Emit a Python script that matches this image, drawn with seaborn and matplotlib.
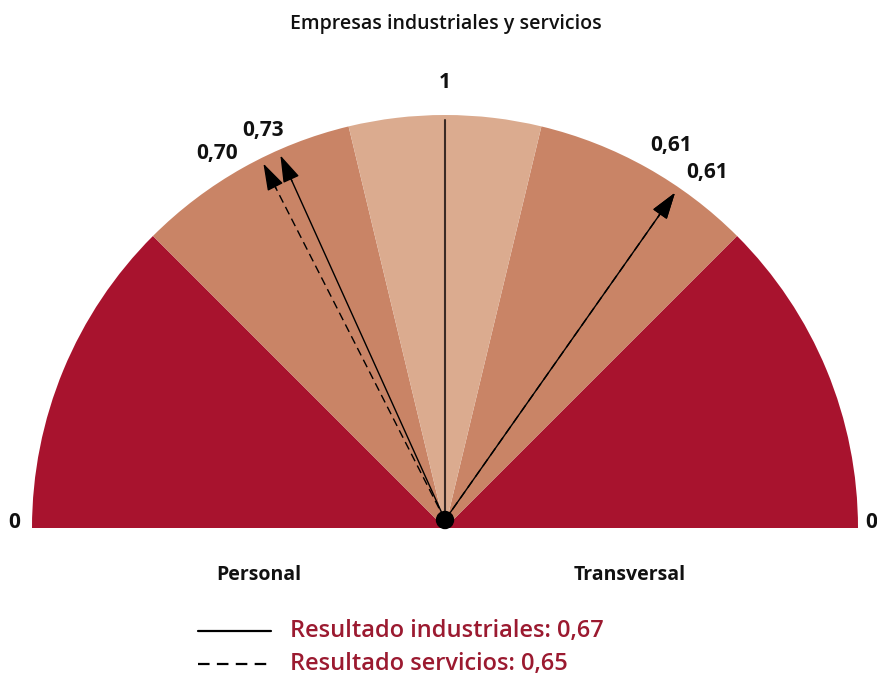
import numpy as np
import pandas as pd
import matplotlib
matplotlib.use("Agg")
import matplotlib.pyplot as plt
from matplotlib.patches import Wedge, Circle
import seaborn as sns

# ---- data ----
title = "Empresas industriales y servicios"
categories = ["Personal", "Transversal"]
industriales = [0.73, 0.61]
servicios = [0.70, 0.61]
total_industriales = 0.67
total_servicios = 0.65
zone_edges = [0.0, 0.5, 0.85, 1.0]
zone_colors = ["#A8132E", "#C98466", "#DBAB8F"]
series_names = ["Resultado industriales", "Resultado servicios"]

sns.set_theme(style="white")
plt.rcParams["font.family"] = ["Open Sans", "DejaVu Sans"]

W, H = 877, 679
fig = plt.figure(figsize=(W / 100, H / 100), dpi=100)
ax = fig.add_axes([0, 0, 1, 1])
R = 413.0
cx, cy = 445.0, 528.0  # pixel coords from top
ax.set_xlim(-cx / R, (W - cx) / R)
ax.set_ylim(-(H - cy) / R, cy / R)
ax.set_aspect("equal")
ax.axis("off")


def angle(side, v):
    # side 0 = Personal (left), side 1 = Transversal (right)
    return 180.0 - 90.0 * v if side == 0 else 90.0 * v


# zones
for side in range(2):
    for i in range(len(zone_colors)):
        a1, a2 = sorted([angle(side, zone_edges[i]), angle(side, zone_edges[i + 1])])
        ax.add_patch(Wedge((0, 0), 1.0, a1, a2, facecolor=zone_colors[i],
                           edgecolor="none", zorder=1))

origin = (0.0, 8 / R)
L = 400 / R

# vertical "1" line
ax.plot([0, 0], [origin[1], origin[1] + L], color="#3A2A25", lw=1.5, zorder=3)

# arrows data
rows = []
for s_name, vals in [(series_names[0], industriales), (series_names[1], servicios)]:
    for side, v in enumerate(vals):
        th = np.deg2rad(angle(side, v))
        for t in (0.0, 1.0):
            rows.append(dict(serie=s_name, cat=categories[side], v=v,
                             x=origin[0] + t * L * 0.95 * np.cos(th),
                             y=origin[1] + t * L * 0.95 * np.sin(th),
                             seg=f"{s_name}-{side}"))
df = pd.DataFrame(rows)
sns.lineplot(data=df, x="x", y="y", units="seg", estimator=None, style="serie",
             style_order=series_names, dashes=[(None, None), (6, 3.5)],
             color="black", lw=1.0, sort=False, legend=False, ax=ax, zorder=4)

# arrow heads
for vals in (industriales, servicios):
    for side, v in enumerate(vals):
        th = np.deg2rad(angle(side, v))
        tip = (origin[0] + L * np.cos(th), origin[1] + L * np.sin(th))
        back = (origin[0] + L * 0.93 * np.cos(th), origin[1] + L * 0.93 * np.sin(th))
        ax.annotate("", xy=tip, xytext=back,
                    arrowprops=dict(arrowstyle="-|>,head_length=1.4,head_width=0.45",
                                    color="black", lw=1.0, shrinkA=0, shrinkB=0),
                    zorder=5)

ax.add_patch(Circle(origin, 8.5 / R, color="black", zorder=6))

# value labels
def fmt(v):
    return f"{v:.2f}".replace(".", ",")

label_offsets = {  # pixel offsets from arrow tip (x, y up)
    (0, 0): (-17, 25), (1, 0): (-46, 10),
    (0, 1): (-4, 47), (1, 1): (32, 20),
}
for si, vals in enumerate((industriales, servicios)):
    for side, v in enumerate(vals):
        th = np.deg2rad(angle(side, v))
        tip = (origin[0] + L * np.cos(th), origin[1] + L * np.sin(th))
        dx, dy = label_offsets[(si, side)]
        ax.annotate(fmt(v), xy=tip, xytext=(dx * 0.72, dy * 0.72),
                    textcoords="offset points", ha="center", va="center",
                    fontsize=15, fontweight="bold", color="#111111")

# scale labels
for xpix, txt in [(14, "0"), (871, "0")]:
    ax.text((xpix - cx) / R, (cy - 522) / R, txt, ha="center", va="center",
            fontsize=15, fontweight="bold", color="#111111")
ax.text(0, (cy - 82) / R, "1", ha="center", va="center", fontsize=15,
        fontweight="bold", color="#111111")

# category labels
ax.text((259 - cx) / R, (cy - 575) / R, categories[0], ha="center", va="center",
        fontsize=14, fontweight="bold", color="#111111")
ax.text((630 - cx) / R, (cy - 575) / R, categories[1], ha="center", va="center",
        fontsize=14, fontweight="bold", color="#111111")

# title
fig.text(446 / W, 1 - 24 / H, title, ha="center", va="center", fontsize=14,
         fontweight="semibold", color="#111111")

# legend
leg_color = "#9B1A30"
for i, (name, tot, ls) in enumerate([(series_names[0], total_industriales, "-"),
                                    (series_names[1], total_servicios, (0, (5.2, 3.3)))]):
    yp = 1 - (631 + 33 * i) / H
    fig.add_artist(plt.Line2D([198 / W, 271 / W], [yp, yp], color="black",
                              lw=1.6, linestyle=ls))
    fig.text(290 / W, yp, f"{name}: {fmt(tot)}", ha="left", va="center",
             fontsize=17, fontweight="semibold", color=leg_color)

fig.savefig("out.png", dpi=100)
